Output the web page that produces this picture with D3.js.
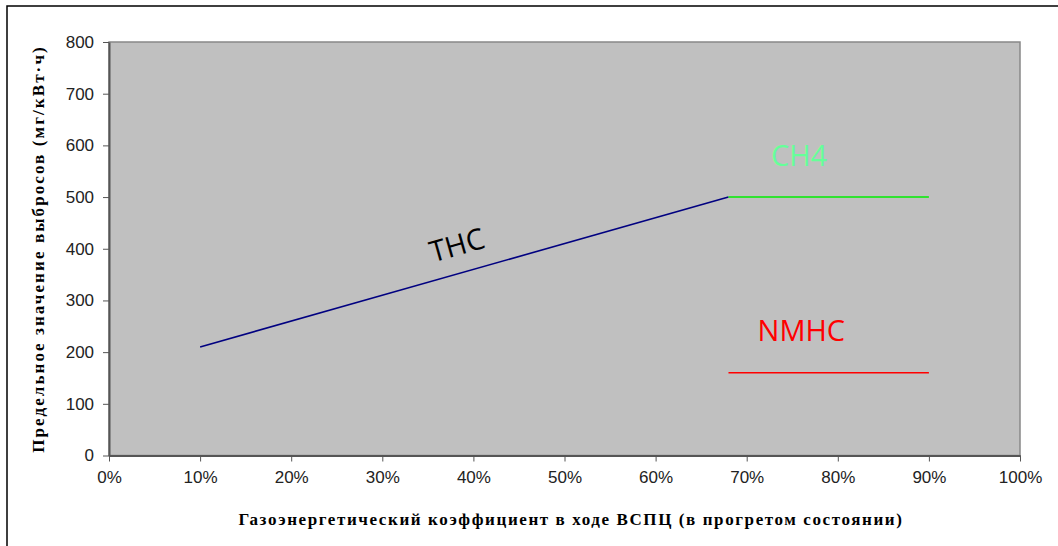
<!DOCTYPE html>
<html>
<head>
<meta charset="utf-8">
<script src="https://cdn.jsdelivr.net/npm/d3@7"></script>
<style>
  body { margin: 0; background: #fff; }
  svg { display: block; }
</style>
</head>
<body>
<div class="chart"></div>
<script>
// values
let xTicks = [0, 0.1, 0.2, 0.3, 0.4, 0.5, 0.6, 0.7, 0.8, 0.9, 1.0];
let yTicks = [0, 100, 200, 300, 400, 500, 600, 700, 800];

let thcX = [0.10, 0.68];
let thcY = [210, 500];
let ch4X = [0.68, 0.90];
let ch4Y = [500, 500];
let nmhcX = [0.68, 0.90];
let nmhcY = [160, 160];

let seriesNames = ["THC", "CH4", "NMHC"];
let seriesColors = ["#000080", "#00ee00", "#ff0000"];
let labelColors = ["#000000", "#66ff99", "#ff0000"];

let W = 1058, H = 546;
let margin = {top: 42, right: 38, bottom: 90.5, left: 109};
let width = W - margin.left - margin.right;
let height = H - margin.top - margin.bottom;

let root = d3.select('.chart')
    .append('svg')
    .attr('width', W)
    .attr('height', H);

// outer frame (top and left edges only, as cropped in the picture)
root.append("path")
    .attr("d", "M7,546 L7,6 L1058,6")
    .attr("fill", "none")
    .attr("stroke", "#000")
    .attr("stroke-width", 1.5);

let svg = root.append("g")
    .attr("transform", `translate(${margin.left},${margin.top})`);

let xScale = d3.scaleLinear().domain([0, 1]).range([0, width]);
let yScale = d3.scaleLinear().domain([0, 800]).range([height, 0]);

// plot area
svg.append("rect")
    .attr("width", width)
    .attr("height", height)
    .attr("fill", "#c0c0c0")
    .attr("stroke", "#888")
    .attr("stroke-width", 1.5);

let xAxis = d3.axisBottom(xScale)
    .tickValues(xTicks)
    .tickFormat(d3.format(".0%"))
    .tickSize(6)
    .tickSizeOuter(0);

let yAxis = d3.axisLeft(yScale)
    .tickValues(yTicks)
    .tickSize(6)
    .tickSizeOuter(0);

let gx = svg.append("g")
    .attr("class", "axis x-axis")
    .attr("transform", `translate(0, ${height})`)
    .call(xAxis);

let gy = svg.append("g")
    .attr("class", "axis y-axis")
    .call(yAxis);

[gx, gy].forEach(g => {
    g.selectAll(".domain").attr("stroke", "#555").attr("stroke-width", 2);
    g.selectAll(".tick line").attr("stroke", "#555");
    g.selectAll(".tick text")
        .attr("fill", "#222")
        .style("font-family", "'Liberation Sans', Arial, sans-serif")
        .style("font-size", "17px");
});
gx.selectAll(".tick text").attr("dy", "1.1em");
gy.selectAll(".tick text").attr("dx", "-0.35em");

// series lines
let line = d3.line().x(d => xScale(d[0])).y(d => yScale(d[1]));
let series = [
    d3.zip(thcX, thcY),
    d3.zip(ch4X, ch4Y),
    d3.zip(nmhcX, nmhcY)
];
series.forEach((pts, i) => {
    svg.append("path")
        .datum(pts)
        .attr("d", line)
        .attr("fill", "none")
        .attr("stroke", seriesColors[i])
        .attr("stroke-width", 1.6);
});

// series labels
let labelFont = "'Open Sans', 'Noto Sans', sans-serif";
let angle = Math.atan2(yScale(thcY[1]) - yScale(thcY[0]), xScale(thcX[1]) - xScale(thcX[0])) * 180 / Math.PI;
svg.append("text")
    .attr("transform", `translate(${xScale(0.385)},${yScale(388)}) rotate(${angle})`)
    .attr("text-anchor", "middle")
    .attr("fill", labelColors[0])
    .style("font-family", labelFont)
    .style("font-size", "29px")
    .text(seriesNames[0]);

svg.append("text")
    .attr("x", xScale(0.7575))
    .attr("y", yScale(560))
    .attr("text-anchor", "middle")
    .attr("fill", labelColors[1])
    .style("font-family", labelFont)
    .style("font-size", "29px")
    .text(seriesNames[1]);

svg.append("text")
    .attr("x", xScale(0.760))
    .attr("y", yScale(222))
    .attr("text-anchor", "middle")
    .attr("fill", labelColors[2])
    .style("font-family", labelFont)
    .style("font-size", "29px")
    .text(seriesNames[2]);

// axis titles
svg.append("text")
    .attr("x", 571 - margin.left)
    .attr("y", 525 - margin.top)
    .attr("text-anchor", "middle")
    .style("font-family", "'Liberation Serif', 'Times New Roman', serif")
    .style("font-weight", "bold")
    .style("font-size", "17px")
    .style("letter-spacing", "1.6px")
    .text("Газоэнергетический коэффициент в ходе ВСПЦ (в прогретом состоянии)");

svg.append("text")
    .attr("transform", `translate(${38 - margin.left},${249 - margin.top}) rotate(-90)`)
    .attr("text-anchor", "middle")
    .attr("dy", "0.35em")
    .style("font-family", "'Liberation Serif', 'Times New Roman', serif")
    .style("font-weight", "bold")
    .style("font-size", "17px")
    .style("letter-spacing", "2.1px")
    .text("Предельное значение выбросов (мг/кВт·ч)");
</script>
</body>
</html>
